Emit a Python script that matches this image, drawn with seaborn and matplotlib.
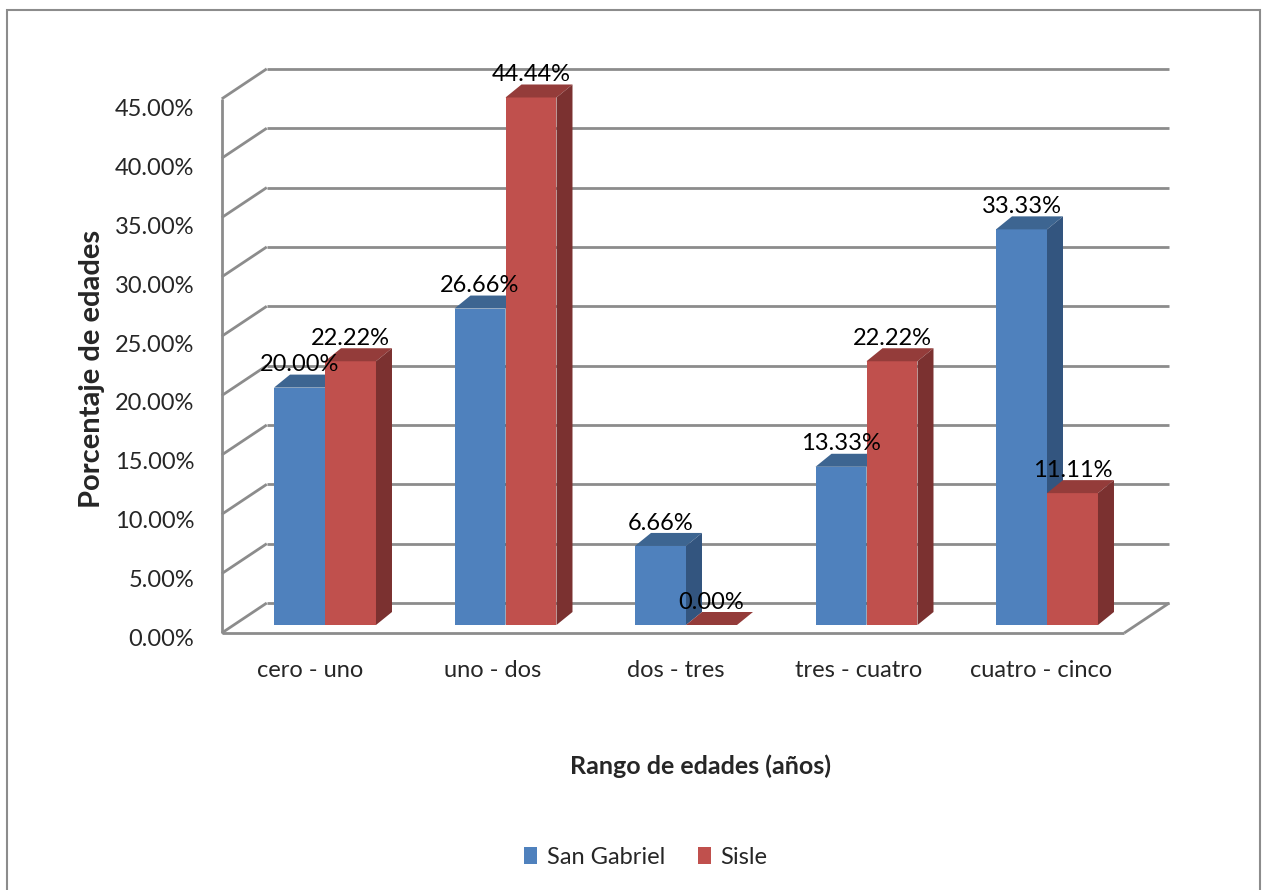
import numpy as np
import pandas as pd
import matplotlib
matplotlib.use("Agg")
import matplotlib.pyplot as plt
from matplotlib.patches import Polygon, Rectangle, Patch
import seaborn as sns

# ---------------- data ----------------
categories = ["cero - uno", "uno - dos", "dos - tres", "tres - cuatro", "cuatro - cinco"]
series_names = ["San Gabriel", "Sisle"]
san_gabriel = [20.00, 26.66, 6.66, 13.33, 33.33]
sisle = [22.22, 44.44, 0.00, 22.22, 11.11]
y_ticks = [0, 5, 10, 15, 20, 25, 30, 35, 40, 45]
x_title = "Rango de edades (años)"
y_title = "Porcentaje de edades"

df = pd.DataFrame({
    "Rango": categories * 2,
    "Porcentaje": san_gabriel + sisle,
    "Serie": [series_names[0]] * len(categories) + [series_names[1]] * len(categories),
})

# ---------------- style ----------------
sns.set_theme(style="white")
FONT = ["Lato", "DejaVu Sans"]
plt.rcParams["font.family"] = FONT

front_cols = ["#4F81BD", "#C0504D"]
top_cols = ["#3D6591", "#943C3A"]
side_cols = ["#33557F", "#7B3130"]
grid_col = "#8C8C8C"
FS = 17

W, H = 1267, 890
fig = plt.figure(figsize=(W / 100, H / 100), dpi=100)

# pixel geometry (layout constants)
X_BAR0 = 325.0     # pixel x of category 0 centre in the bar plane
X_STEP = 180.5     # pixels per category
Y_BAR0 = 625.0     # pixel y of 0 % in the bar plane
Y_STEP = 11.87     # pixels per 1 %
FRONT_DX, FRONT_DY = -13.0, 8.0   # front plane relative to bar plane (px)
BACK_DX, BACK_DY = 32.0, -22.0    # back wall relative to bar plane (px)
BAR_DX, BAR_DY = 16.0, -13.0      # bar depth (px)
LABEL_SQUEEZE = 0.991             # y tick labels sit on a slightly compressed scale

ax_l, ax_r, ax_t, ax_b = 200, 1190, 40, 650
ax = fig.add_axes([ax_l / W, 1 - ax_b / H, (ax_r - ax_l) / W, (ax_b - ax_t) / H])

def dxu(px):
    return px / X_STEP

def dyu(px):
    return -px / Y_STEP

# ---------------- walls / gridlines ----------------
n = len(categories)
x_front_left = -0.5 + dxu(FRONT_DX)
x_front_right = n - 0.5 + dxu(FRONT_DX)
xb_l = -0.5 + dxu(BACK_DX)
xb_r = n - 0.5 + dxu(BACK_DX)
gl = dict(color=grid_col, lw=2.0, zorder=1, solid_capstyle="butt")
for v in y_ticks:
    yf = v + dyu(FRONT_DY)
    yb = v + dyu(BACK_DY)
    ax.plot([xb_l, xb_r], [yb, yb], **gl)
    ax.plot([x_front_left, xb_l], [yf, yb], **gl)
ax.plot([x_front_left, x_front_left], [dyu(FRONT_DY), max(y_ticks) + dyu(FRONT_DY)], **gl)
ax.plot([x_front_left, x_front_right], [dyu(FRONT_DY), dyu(FRONT_DY)], **gl)
ax.plot([x_front_right, xb_r], [dyu(FRONT_DY), dyu(BACK_DY)], **gl)

# ---------------- bars ----------------
sns.barplot(data=df, x="Rango", y="Porcentaje", hue="Serie", order=categories,
            hue_order=series_names, palette=front_cols, width=0.565, gap=0,
            saturation=1, linewidth=0, legend=False, ax=ax)

ax.set_xlim((ax_l - X_BAR0) / X_STEP, (ax_r - X_BAR0) / X_STEP)
ax.set_ylim((Y_BAR0 - ax_b) / Y_STEP, (Y_BAR0 - ax_t) / Y_STEP)

for k, p in enumerate(list(ax.patches)):
    s = k // n
    p.set_zorder(2 + 2 * s)
    p.set_edgecolor("none")
    x0, w, h = p.get_x(), p.get_width(), p.get_height()
    ddx, ddy = dxu(BAR_DX), dyu(BAR_DY)
    top = Polygon([(x0, h), (x0 + w, h), (x0 + w + ddx, h + ddy), (x0 + ddx, h + ddy)],
                  closed=True, facecolor=top_cols[s], edgecolor="none", zorder=2.5 + 2 * s)
    side = Polygon([(x0 + w, 0), (x0 + w + ddx, ddy), (x0 + w + ddx, h + ddy), (x0 + w, h)],
                   closed=True, facecolor=side_cols[s], edgecolor="none", zorder=2.5 + 2 * s)
    ax.add_patch(top)
    ax.add_patch(side)
    ax.text(x0 + w / 2, h + ddy - 0.05, f"{h:.2f}%", ha="center", va="bottom",
            fontsize=FS, color="black", zorder=10)

# ---------------- axes text ----------------
ax.set_xticks([i + dxu(FRONT_DX) - 0.01 + 0.012 * i for i in range(n)])
ax.set_xticklabels(categories, fontsize=FS)
ax.set_yticks([v * LABEL_SQUEEZE + dyu(FRONT_DY) - 0.35 for v in y_ticks])
ax.set_yticklabels([f"{v:.2f}%" for v in y_ticks], fontsize=FS)
ax.tick_params(axis="both", length=0)
ax.tick_params(axis="x", pad=7)
ax.tick_params(axis="y", pad=4)
for sp in ax.spines.values():
    sp.set_visible(False)
ax.set_xlabel("")
ax.set_ylabel("")
ax.set_facecolor("none")

fig.text(701 / W, 1 - 766 / H, x_title, ha="center", va="center",
         fontsize=18, fontweight="bold")
fig.text(92 / W, 1 - 369 / H, y_title, ha="center", va="center",
         rotation=90, fontsize=21, fontweight="bold")

handles = [Patch(facecolor=c, edgecolor="none") for c in front_cols]
fig.legend(handles, series_names, loc="center", bbox_to_anchor=(646 / W, 1 - 857 / H),
           ncol=2, frameon=False, fontsize=FS, handlelength=0.55, handleheight=0.7,
           handletextpad=0.4, columnspacing=1.4)

# chart-area border
fig.patches.append(Rectangle((7 / W, -0.01), (1260 - 7) / W, 1 - 10 / H + 0.01,
                             transform=fig.transFigure, fill=False,
                             edgecolor="#8C8C8C", lw=1.5))

fig.savefig("out.png", dpi=100)
